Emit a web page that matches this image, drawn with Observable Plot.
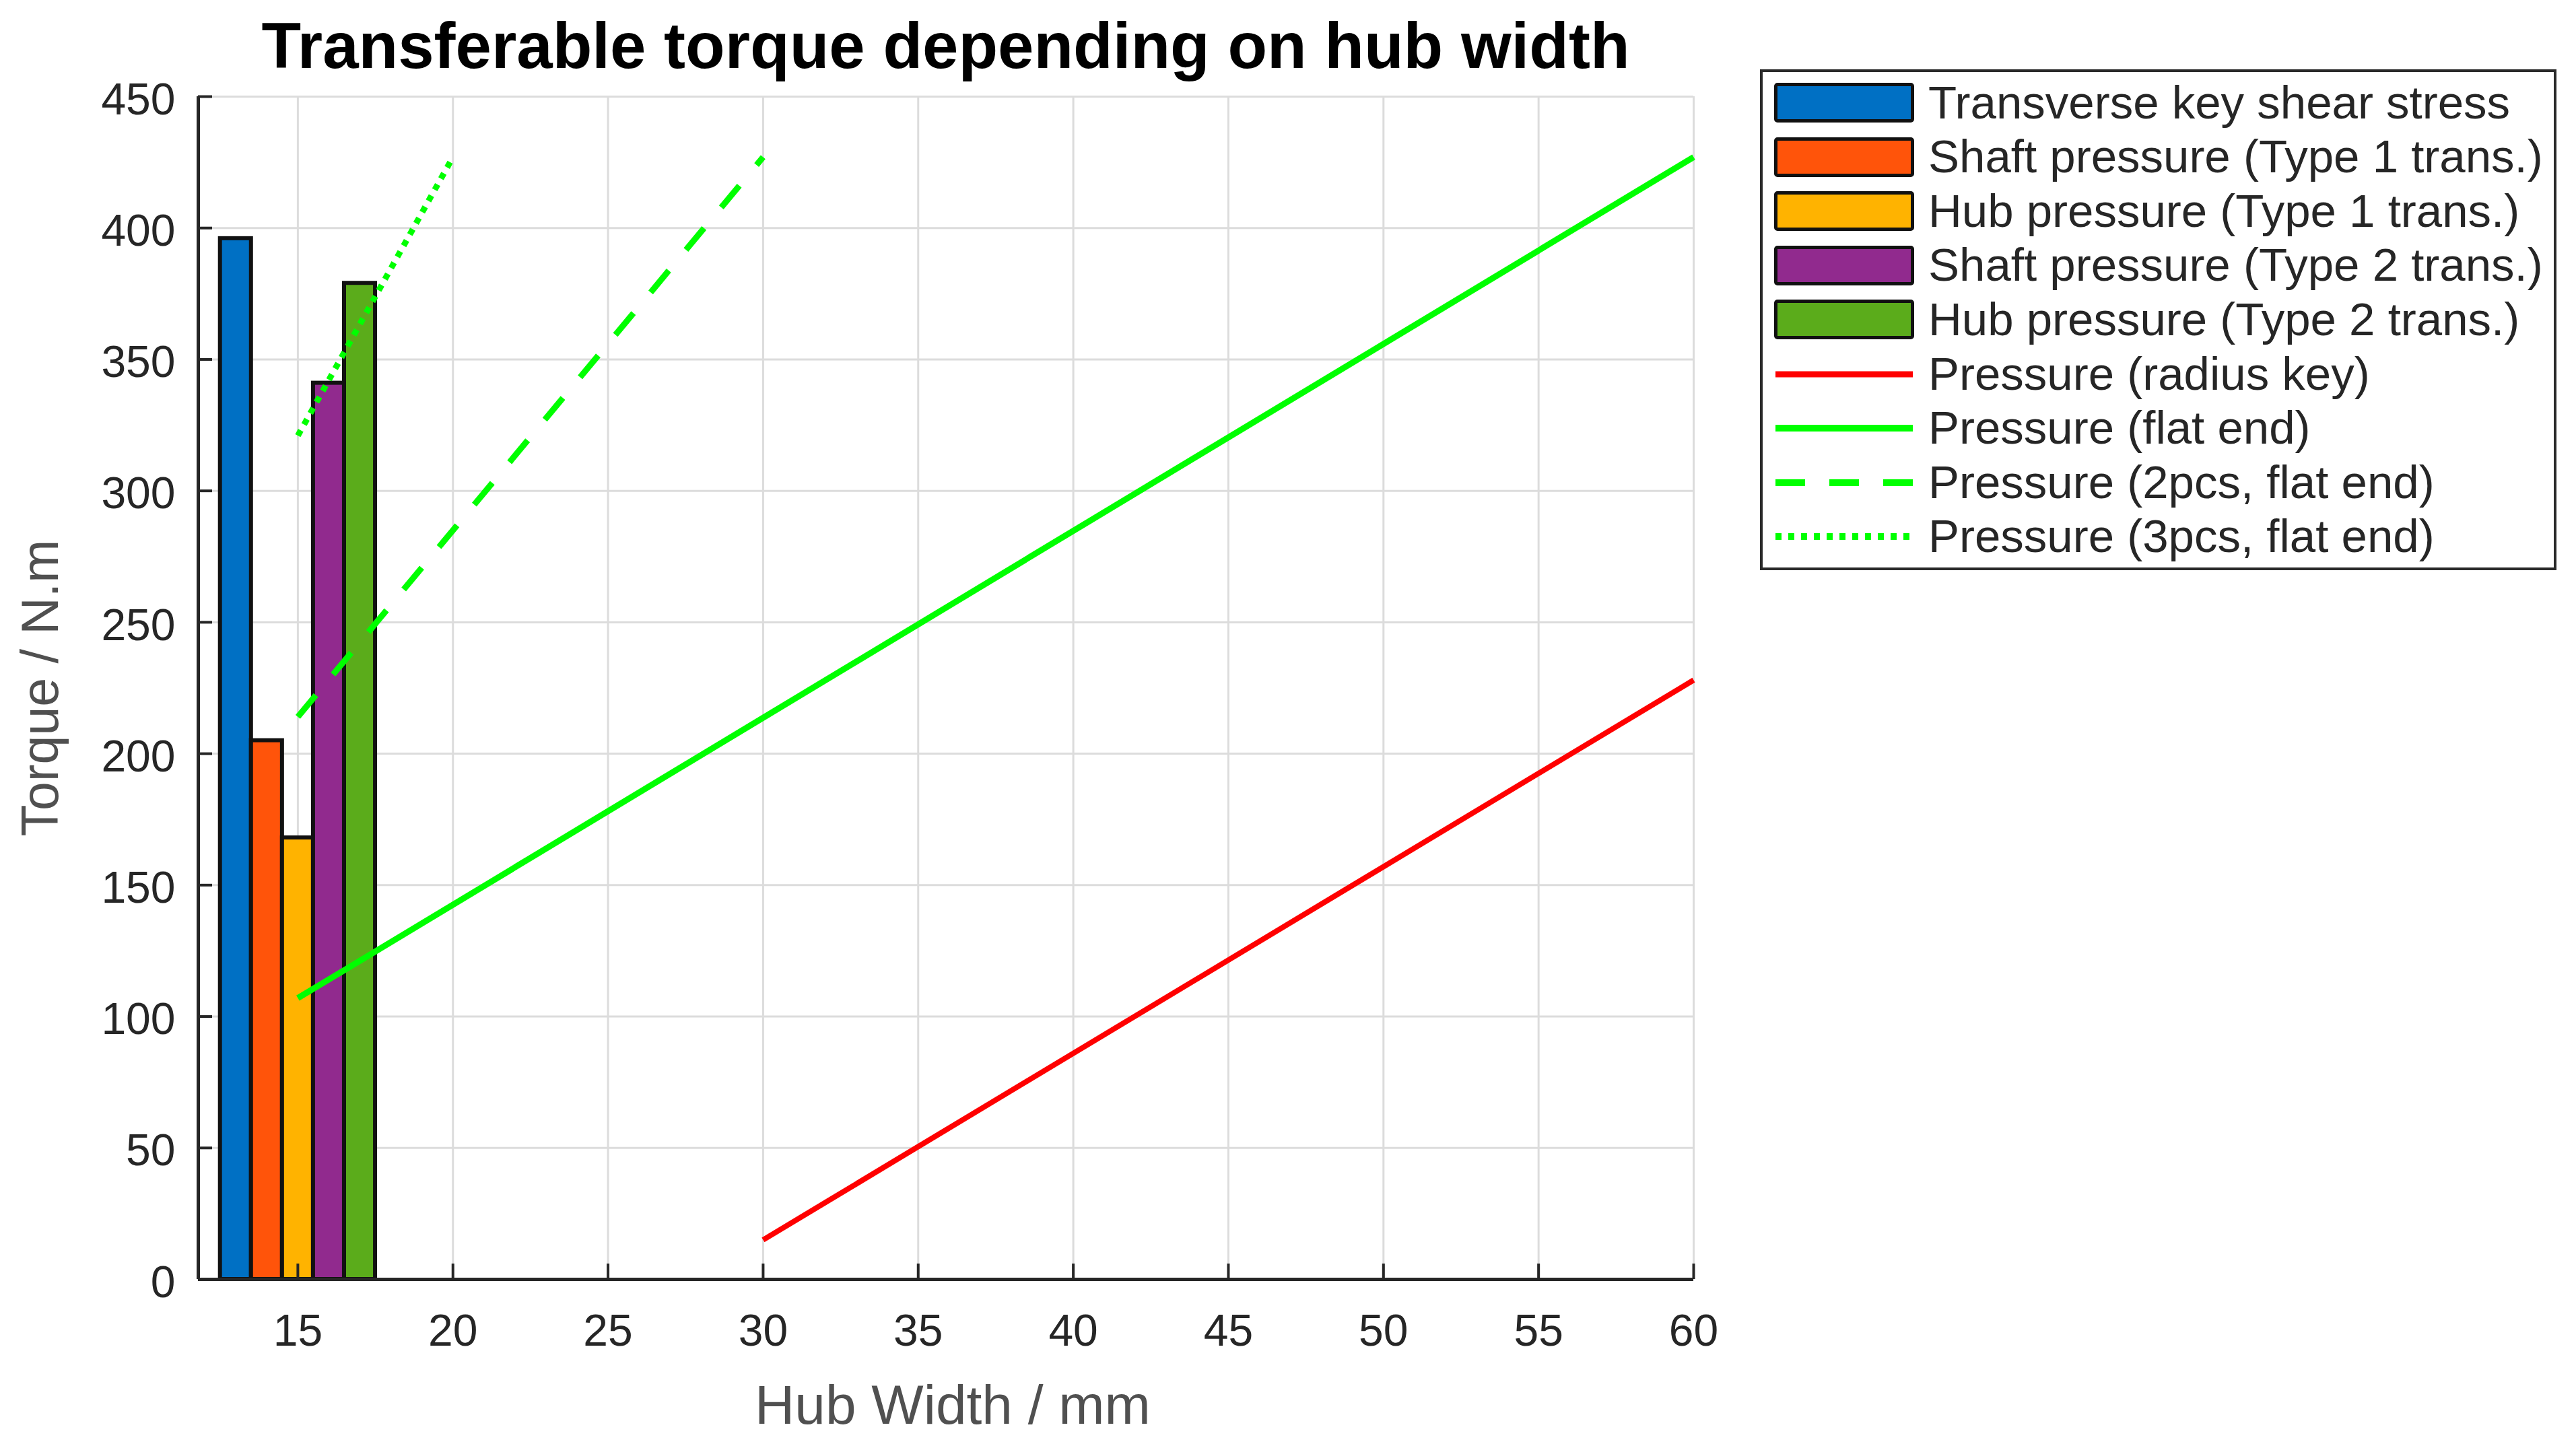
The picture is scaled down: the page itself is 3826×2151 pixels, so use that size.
<!DOCTYPE html>
<html>
<head>
<meta charset="utf-8">
<script src="https://cdn.jsdelivr.net/npm/d3@7"></script>
<script src="https://cdn.jsdelivr.net/npm/@observablehq/plot@0.6"></script>
<style>
html, body { margin: 0; padding: 0; background: #fff; }
#wrap { position: relative; width: 3826px; height: 2151px; overflow: hidden;
  font-family: "Liberation Sans", Arial, Helvetica, sans-serif; }
#chart { position: absolute; left: 0; top: 0; }
#title { position: absolute; left: 294px; width: 2221px; top: 20px; text-align: center;
  font-weight: bold; font-size: 96px; line-height: 96px; color: #000; white-space: nowrap; }
#legend { position: absolute; left: 2614px; top: 103px; width: 1183px; height: 744px;
  box-sizing: border-box; border: 4px solid #2a2a2a; background: #fff; }
.row { position: absolute; left: 0; height: 80px; display: flex; align-items: center; white-space: nowrap; }
.sw { width: 208px; height: 59px; box-sizing: border-box; border: 5px solid #111; border-radius: 5px; }
.lab { position: absolute; font-size: 69px; color: #262626; line-height: 80px; top: 0; }
</style>
</head>
<body>
<div id="wrap">
  <div id="chart"></div>
  <div id="title"></div>
  <div id="legend"></div>
</div>
<script>
// ---- data ----
const titleText = "Transferable torque depending on hub width";
const xLabel = "Hub Width / mm";
const yLabel = "Torque / N.m";

const xTicks = [15, 20, 25, 30, 35, 40, 45, 50, 55, 60];
const yTicks = [0, 50, 100, 150, 200, 250, 300, 350, 400, 450];
const xDomain = [11.79, 60];
const yDomain = [0, 450];

const barNames = [
  "Transverse key shear stress",
  "Shaft pressure (Type 1 trans.)",
  "Hub pressure (Type 1 trans.)",
  "Shaft pressure (Type 2 trans.)",
  "Hub pressure (Type 2 trans.)"
];
const barWidthsMm = [13, 14, 15, 16, 17];
const barTorques = [396, 205, 168, 341, 379];
const barColors = ["#0070C4", "#FF540A", "#FFB300", "#912A8E", "#5BAC1B"];

const lineNames = [
  "Pressure (radius key)",
  "Pressure (flat end)",
  "Pressure (2pcs, flat end)",
  "Pressure (3pcs, flat end)"
];
const lineColors = ["#FF0000", "#00FF00", "#00FF00", "#00FF00"];
const lineDashes = [null, null, "42,40", "9,10"];
const lineStrokeW = [8, 9, 9, 9];
const radiusKeyW = [30, 60];
const radiusKeyT = [15, 228];
const flatEndW = [15, 60];
const flatEndT = [107, 427];
const flat2W = [15, 30];
const flat2T = [214, 427];
const flat3W = [15, 20];
const flat3T = [321, 427];
const lineWs = [radiusKeyW, flatEndW, flat2W, flat3W];
const lineTs = [radiusKeyT, flatEndT, flat2T, flat3T];

// ---- tables ----
const bars = barNames.map((name, i) => ({name, w: barWidthsMm[i], torque: barTorques[i], color: barColors[i]}));
const lines = lineNames.map((name, i) => lineWs[i].map((w, j) => ({name, w, t: lineTs[i][j]})));

// ---- styles ----
const gridColor = "#dcdcdc";
const axisColor = "#262626";
const marginLeft = 294, marginRight = 1311, marginTop = 143, marginBottom = 251;
const W = 3826, H = 2151;
const frameW = W - marginLeft - marginRight;
const frameH = H - marginTop - marginBottom;

const lineMarks = lines.map((rows, i) => Plot.line(rows, {
  x: "w", y: "t", stroke: lineColors[i], strokeWidth: lineStrokeW[i],
  strokeDasharray: lineDashes[i] || undefined, strokeLinecap: "butt"
}));

const chart = Plot.plot({
  width: W, height: H,
  marginLeft, marginRight, marginTop, marginBottom,
  x: {domain: xDomain},
  y: {domain: yDomain},
  style: {fontFamily: "'Liberation Sans', Arial, Helvetica, sans-serif", fontSize: "66px", color: "#262626", background: "transparent"},
  marks: [
    Plot.ruleX(xTicks, {stroke: gridColor, strokeWidth: 3}),
    Plot.ruleY(yTicks, {stroke: gridColor, strokeWidth: 3}),
    Plot.rect(bars, {x1: d => d.w - 0.5, x2: d => d.w + 0.5, y1: 0, y2: "torque", fill: "color", stroke: "#111", strokeWidth: 6}),
    ...lineMarks,
    Plot.tickY(yTicks, {y: d => d, insetRight: frameW - 21, stroke: axisColor, strokeWidth: 4}),
    Plot.tickX(xTicks, {x: d => d, insetTop: frameH - 23, stroke: axisColor, strokeWidth: 4}),
    Plot.ruleX([xDomain[0]], {stroke: axisColor, strokeWidth: 5}),
    Plot.ruleY([yDomain[0]], {stroke: axisColor, strokeWidth: 5}),
    Plot.axisX({ticks: xTicks, tickSize: 0, tickPadding: 52, label: null, fontSize: 66, fill: "#262626"}),
    Plot.axisY({ticks: yTicks, tickSize: 0, tickPadding: 34, label: null, fontSize: 66, fill: "#262626", dy: 5}),
    Plot.text([xLabel], {text: d => d, frameAnchor: "bottom", textAnchor: "middle", dy: 214, dx: 10, fontSize: 82, fill: "#505050"}),
    Plot.text([yLabel], {text: d => d, frameAnchor: "left", textAnchor: "middle", rotate: -90, dx: -233, fontSize: 77, fill: "#505050"})
  ]
});
document.getElementById("chart").appendChild(chart);
document.getElementById("title").textContent = titleText;

// ---- legend ----
const legend = document.getElementById("legend");
const legendNames = barNames.concat(lineNames);
legendNames.forEach((name, i) => {
  const row = document.createElement("div");
  row.className = "row";
  const center = 45.5 + i * 80.6;
  row.style.top = (center - 40) + "px";
  row.style.left = "17px";
  row.style.width = "1150px";
  let sw;
  if (i < barNames.length) {
    sw = document.createElement("div");
    sw.className = "sw";
    sw.style.background = barColors[i];
  } else {
    const k = i - barNames.length;
    sw = document.createElementNS("http://www.w3.org/2000/svg", "svg");
    sw.setAttribute("width", 208);
    sw.setAttribute("height", 20);
    const ln = document.createElementNS("http://www.w3.org/2000/svg", "line");
    ln.setAttribute("x1", 2); ln.setAttribute("x2", 206);
    ln.setAttribute("y1", 10); ln.setAttribute("y2", 10);
    ln.setAttribute("stroke", lineColors[k]);
    ln.setAttribute("stroke-width", lineStrokeW[k] + 1);
    if (lineDashes[k]) ln.setAttribute("stroke-dasharray", k === 2 ? "44,36" : "9,10");
    sw.appendChild(ln);
  }
  row.appendChild(sw);
  const lab = document.createElement("div");
  lab.className = "lab";
  lab.style.left = "229px";
  lab.textContent = name;
  row.appendChild(lab);
  legend.appendChild(row);
});
</script>
</body>
</html>
